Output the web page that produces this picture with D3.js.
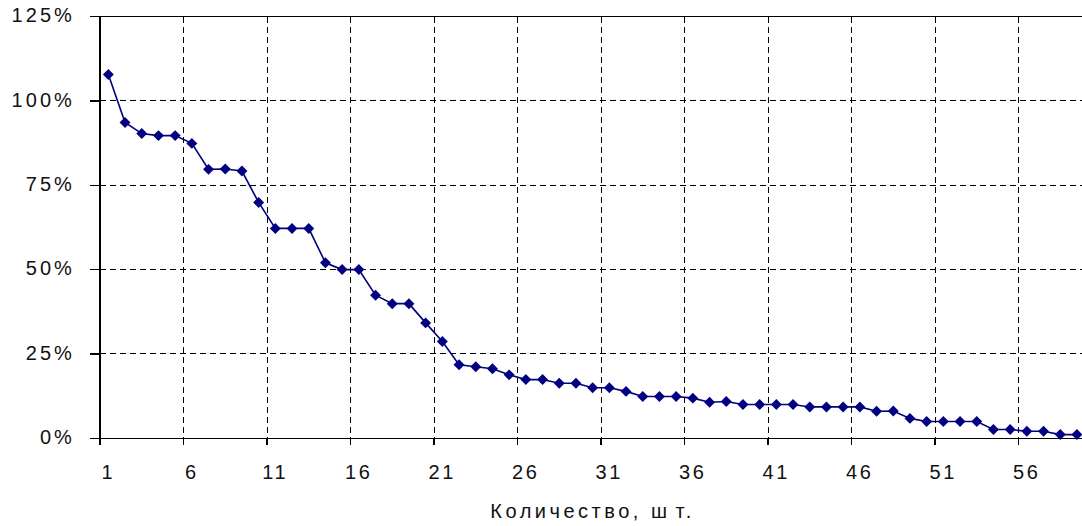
<!DOCTYPE html>
<html>
<head>
<meta charset="utf-8">
<script src="https://cdn.jsdelivr.net/npm/d3@7"></script>
<style>
  html, body { margin: 0; padding: 0; background: #fff; }
  svg { display: block; }
  text { font-family: "Liberation Sans", Arial, sans-serif; fill: #111; }
</style>
</head>
<body>
<svg id="chart" width="1082" height="526"></svg>
<script>
// Category numbers (pieces) and the cumulative share in percent
const categories = d3.range(1, 60);
const shares = [
  107.8, 93.6, 90.3, 89.7, 89.7, 87.4, 79.7, 79.8, 79.2, 69.9,
  62.2, 62.2, 62.2, 52.0, 50.0, 50.0, 42.4, 39.9, 39.9, 34.2,
  28.7, 21.8, 21.2, 20.6, 18.8, 17.4, 17.4, 16.3, 16.3, 15.0,
  15.0, 13.9, 12.4, 12.4, 12.4, 11.9, 10.7, 10.9, 10.0, 10.0,
  10.0, 10.0, 9.3, 9.3, 9.3, 9.3, 8.0, 8.1, 5.9, 5.0,
  5.0, 5.0, 5.0, 2.6, 2.6, 2.1, 2.1, 1.1, 1.1
];
const yTicks = [0, 25, 50, 75, 100, 125];
const xTickLabels = [1, 6, 11, 16, 21, 26, 31, 36, 41, 46, 51, 56];
const xTitleHead = "Количество, ш";
const xTitleTail = "т.";

const svg = d3.select("#chart");
const plotLeft = 100, plotTop = 16.5, plotBottom = 438.3;
const band = 16.7;
const plotRight = plotLeft + band * categories.length;

const x = d3.scaleBand().domain(categories).range([plotLeft, plotRight]).paddingInner(0).paddingOuter(0);
const y = d3.scaleLinear().domain([0, 125]).range([plotBottom, plotTop]);
const cx = d => x(d) + x.bandwidth() / 2;

const grid = svg.append("g").attr("stroke", "#000").attr("stroke-width", 1)
  .attr("stroke-dasharray", "6,4").attr("shape-rendering", "crispEdges");

// horizontal dashed gridlines
grid.selectAll("line.h").data(yTicks.filter(t => t > 0 && t < 125)).join("line")
  .attr("x1", plotLeft).attr("x2", plotRight)
  .attr("y1", d => y(d)).attr("y2", d => y(d));

// vertical dashed gridlines at every fifth category boundary
const boundaries = xTickLabels.filter(v => v > 1);
grid.selectAll("line.v").data(boundaries).join("line")
  .attr("x1", d => x(d)).attr("x2", d => x(d))
  .attr("y1", plotTop).attr("y2", plotBottom);

const axes = svg.append("g").attr("stroke", "#000").attr("stroke-width", 1.3)
  .attr("shape-rendering", "crispEdges");
// plot frame top, y axis, x axis
axes.append("line").attr("x1", plotLeft).attr("x2", plotRight).attr("y1", plotTop).attr("y2", plotTop);
axes.append("line").attr("x1", plotLeft).attr("x2", plotLeft).attr("y1", plotTop).attr("y2", plotBottom + 7);
axes.append("line").attr("x1", plotLeft).attr("x2", plotRight).attr("y1", plotBottom).attr("y2", plotBottom);

// y ticks
axes.selectAll("line.yt").data(yTicks).join("line")
  .attr("x1", plotLeft - 10).attr("x2", plotLeft)
  .attr("y1", d => y(d)).attr("y2", d => y(d));
// x ticks
axes.selectAll("line.xt").data(boundaries).join("line")
  .attr("x1", d => x(d)).attr("x2", d => x(d))
  .attr("y1", plotBottom).attr("y2", plotBottom + 7);

// y tick labels
svg.append("g").selectAll("text").data(yTicks).join("text")
  .attr("x", 75).attr("y", d => y(d) + 5.8)
  .attr("text-anchor", "end")
  .style("font-size", "20px").style("letter-spacing", "3.1px")
  .text(d => d + "%");

// x tick labels
svg.append("g").selectAll("text").data(xTickLabels).join("text")
  .attr("x", d => cx(d)).attr("y", 478.5)
  .attr("text-anchor", "middle")
  .style("font-size", "20px").style("letter-spacing", "2.8px")
  .text(d => d);

// axis title
const title = svg.append("text")
  .attr("x", (plotLeft + plotRight) / 2).attr("y", 518.3)
  .attr("text-anchor", "middle")
  .style("font-size", "20px").style("letter-spacing", "3.5px");
title.append("tspan").text(xTitleHead);
title.append("tspan").attr("dx", 5).text(xTitleTail);

// series line
const data = categories.map((c, i) => ({ c, v: shares[i] }));
svg.append("path").datum(data)
  .attr("fill", "none").attr("stroke", "#000080").attr("stroke-width", 1.6)
  .attr("d", d3.line().x(d => cx(d.c)).y(d => y(d.v)));

// diamond markers
svg.append("g").selectAll("path").data(data).join("path")
  .attr("fill", "#000080")
  .attr("transform", d => `translate(${cx(d.c)},${y(d.v)}) rotate(45)`)
  .attr("d", d3.symbol().type(d3.symbolSquare).size(60));
</script>
</body>
</html>
